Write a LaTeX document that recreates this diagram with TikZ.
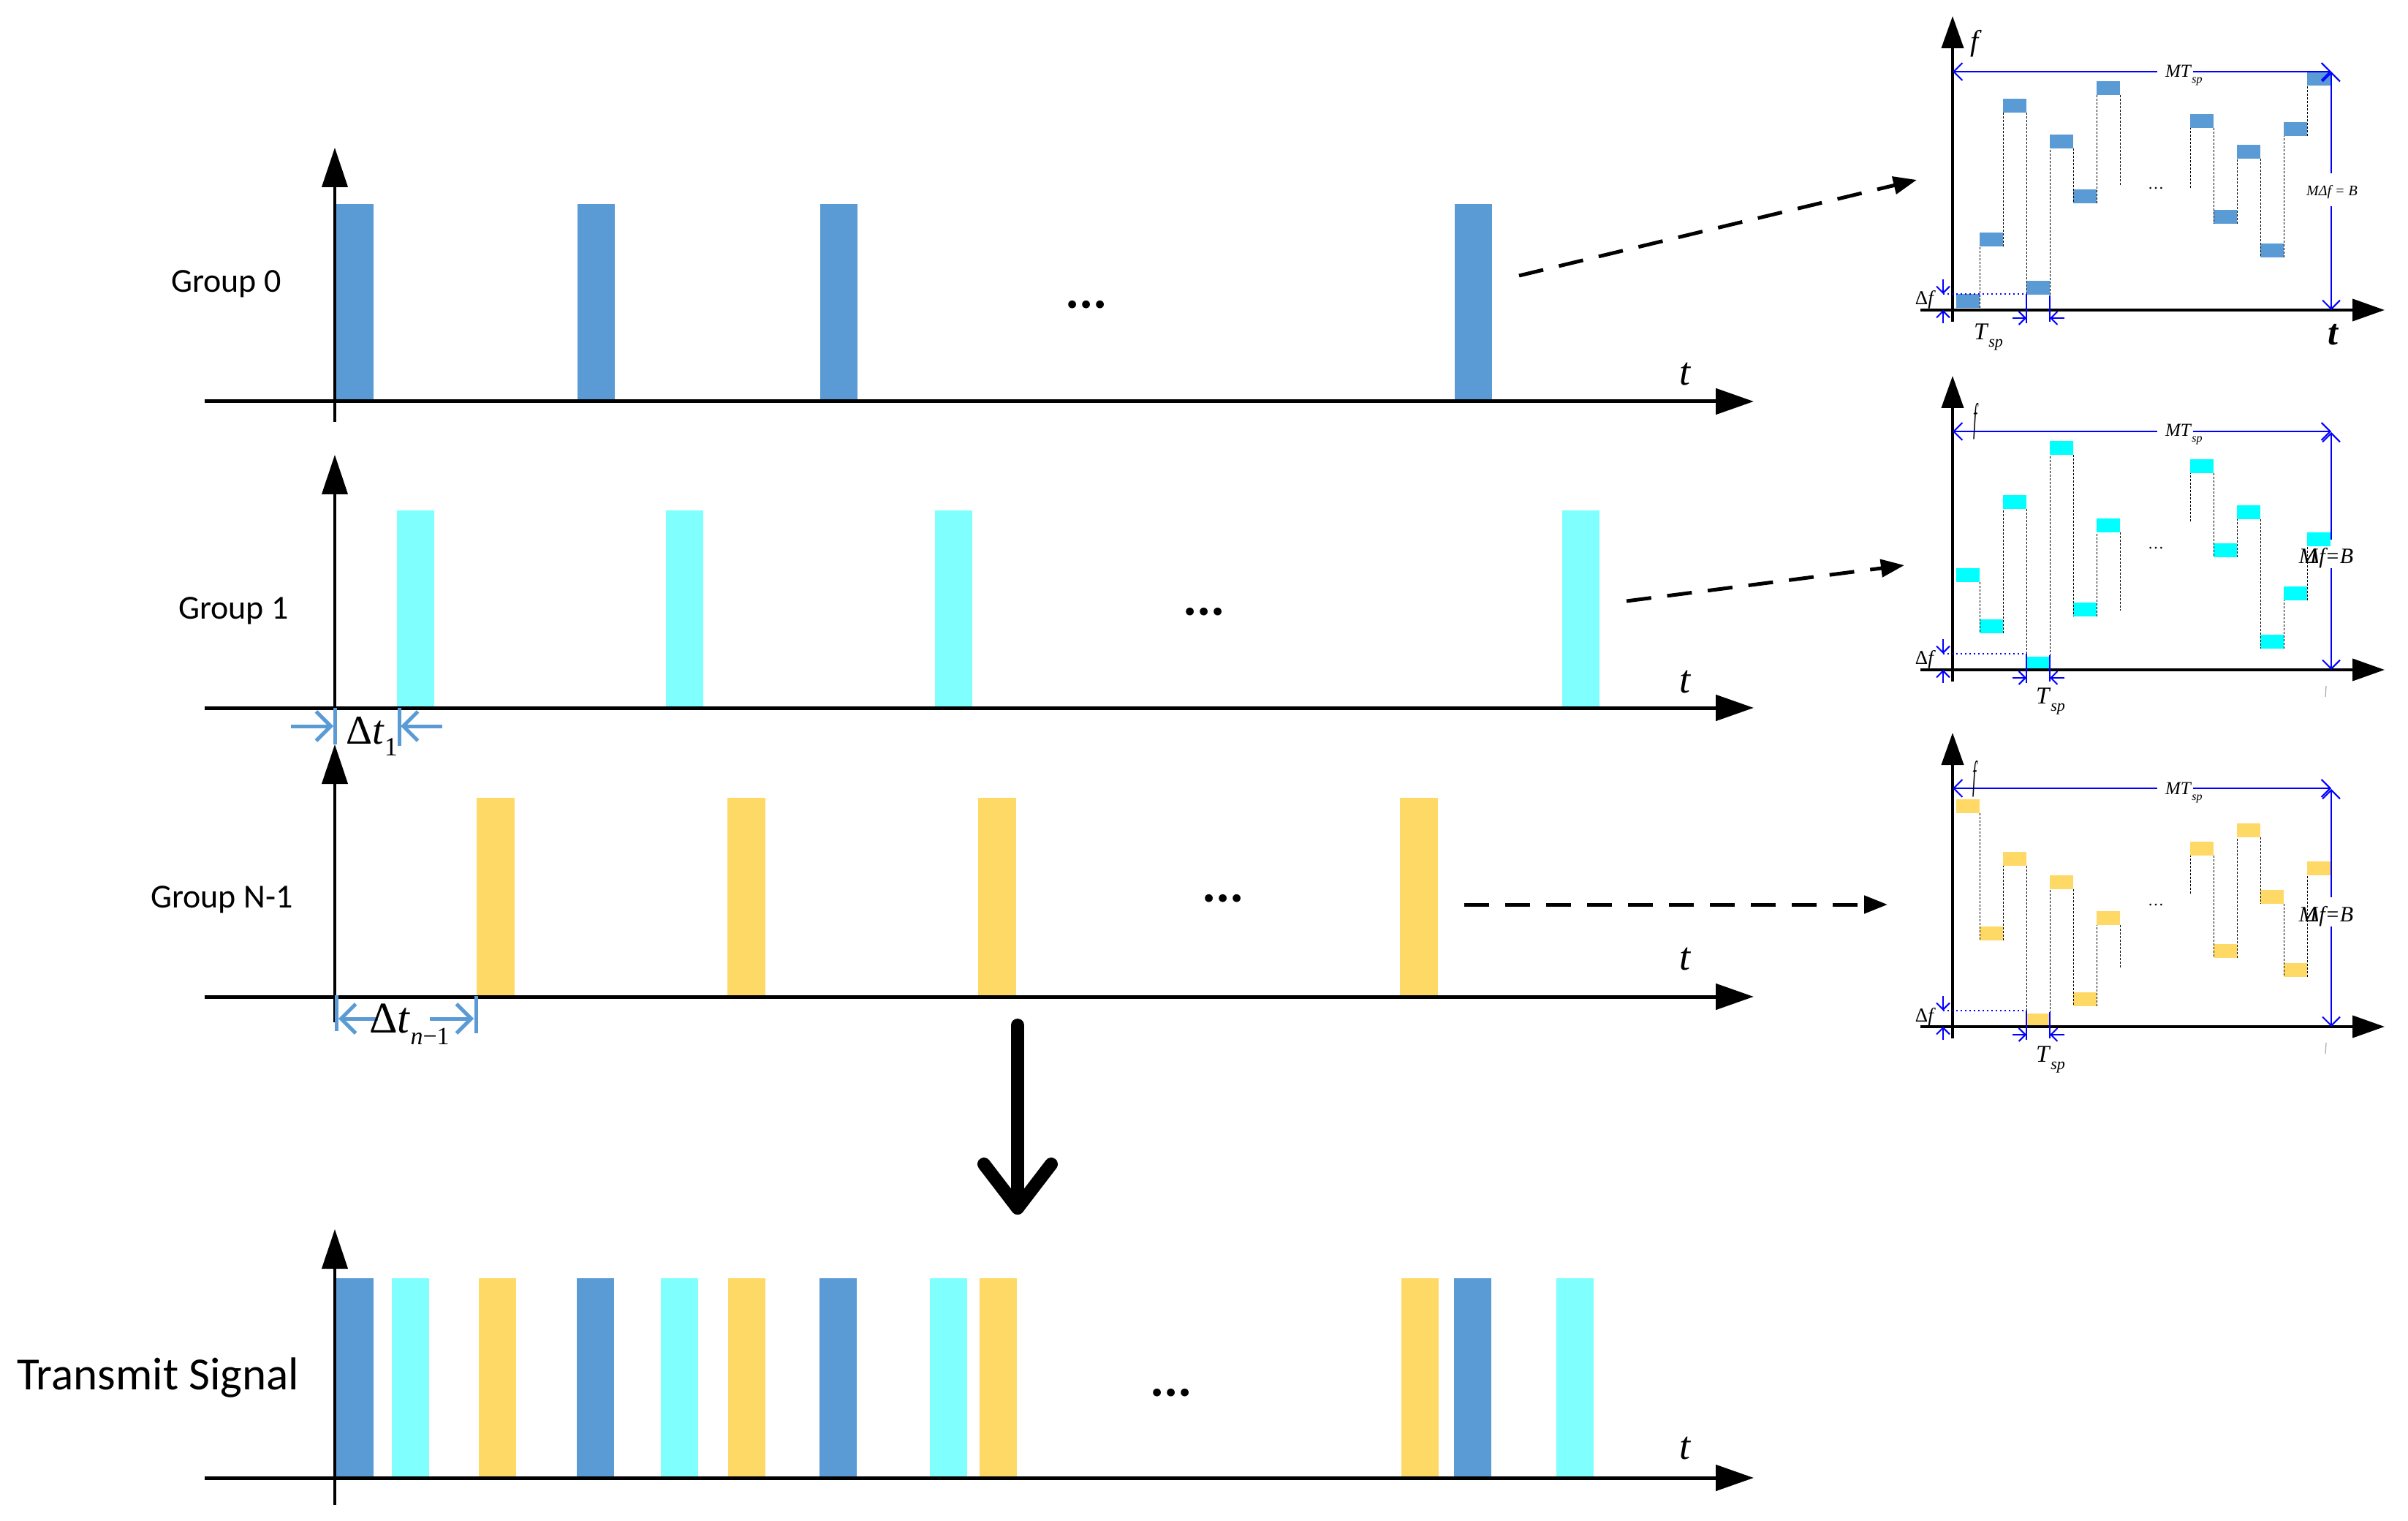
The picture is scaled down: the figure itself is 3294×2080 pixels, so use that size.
\documentclass[tikz,border=0pt]{standalone}
\usepackage{fontspec}
\setmainfont{Carlito}
\newfontfamily\tms{Liberation Serif}
\usetikzlibrary{arrows.meta}
\definecolor{gblue}{HTML}{5B9BD5}
\definecolor{gcyan}{HTML}{80FFFF}
\definecolor{gyel}{HTML}{FFD966}
\definecolor{icyan}{HTML}{00FFFF}
\definecolor{dimblue}{HTML}{0000FF}
\newcommand\fs[1]{\fontsize{#1}{#1}\selectfont}
\tikzset{
  haxis/.style={line width=2.5pt,-{Triangle[length=26pt,width=17.5pt]}},
  vaxis/.style={line width=2pt,-{Triangle[length=27pt,width=17.5pt]}},
  iaxis/.style={line width=2pt,-{Triangle[length=22pt,width=15pt]}},
  dasharrow/.style={line width=2.5pt,dash pattern=on 17pt off 11pt,-{Triangle[length=16pt,width=12pt]}},
  dtline/.style={gblue,line width=2.5pt},
  dtarrow/.style={gblue,line width=2.5pt,-{Straight Barb[length=10pt,width=20pt]}},
  dimln/.style={dimblue,line width=1pt},
  dimtip/.style={dimln,-{Straight Barb[length=6pt,width=12pt]}},
  smalltip/.style={dimln,-{Straight Barb[length=4.5pt,width=9pt]}},
  hopdot/.style={black,line width=0.5pt,dash pattern=on 1.5pt off 1pt},
  grouplab/.style={anchor=base west,font=\fs{23}},
  tlab/.style={anchor=base,font=\tms\itshape\fs{27}},
  mdots/.style={font=\bfseries\fs{36}},
}
% #1 axis y, #2 colour, #3 slot/rel list, #4 rel of slot 6, #5 trailing end rel, #6 rel of slot 10, #7 leading end rel
\newcommand\hopinset[7]{%
  \foreach \s/\r in {#3}
    \fill[#2] ({2676+32*\s},{#1-\r}) rectangle ++(32,19);
  \foreach \s/\r [remember=\s as \ls (initially -9), remember=\r as \lr (initially 0)] in {#3}{%
    \ifnum\s=\numexpr\ls+1\relax
      \draw[hopdot] ({2676+32*\s},{#1-\lr+19}) -- ({2676+32*\s},{#1-\r+19});
    \fi}
  \draw[hopdot] (2900,{#1-#4+19}) -- (2900,{#1-#5});
  \draw[hopdot] (2996,{#1-#7}) -- (2996,{#1-#6+19});
  \draw[iaxis] (2671,#1+16) -- (2671,#1-402);
  \draw[iaxis] (2627,#1) -- (3262,#1);
  % MT_sp dimension
  \draw[dimtip] (2951,#1-326) -- (2671,#1-326);
  \draw[dimtip] (3000,#1-326) -- (3189,#1-326);
  % Delta f
  \draw[smalltip] (2658,#1-42) -- (2658,#1-22);
  \draw[smalltip] (2658,#1+18) -- (2658,#1);
  \draw[dimln,dotted,line width=1pt] (2658,#1-22) -- (2772,#1-22);
  % T_sp
  \draw[dimln] (2772,#1-22) -- (2772,#1+18);
  \draw[dimln] (2804,#1-20) -- (2804,#1+16);
  \draw[smalltip] (2753,#1+11) -- (2772,#1+11);
  \draw[smalltip] (2824,#1+11) -- (2804,#1+11);
}
\begin{document}
\begin{tikzpicture}[x=0.5pt,y=-0.5pt]
\useasboundingbox (0,0) rectangle (3294,2080);

% ---------- bars ----------
\foreach \x in {460,790,1122,1990}
  \fill[gblue] (\x,279) rectangle (\x+51,549);
\foreach \x in {543,911,1279,2137}
  \fill[gcyan] (\x,698) rectangle (\x+51,968);
\foreach \x in {652,995,1338,1915}
  \fill[gyel] (\x,1091) rectangle (\x+52,1363);
\foreach \x/\c in {460/gblue,536/gcyan,655/gyel,789/gblue,904/gcyan,996/gyel,1121/gblue,1272/gcyan,1340/gyel,1917/gyel,1989/gblue,2129/gcyan}
  \fill[\c] (\x,1748) rectangle (\x+51,2021);

% ---------- axes ----------
\draw[vaxis] (458,577) -- (458,202);
\draw[haxis] (280,549) -- (2399,549);
\draw[vaxis] (458,968) -- (458,622);
\draw[haxis] (280,968) -- (2399,968);
\draw[vaxis] (458,1398) -- (458,1018);
\draw[haxis] (280,1363) -- (2399,1363);
\draw[vaxis] (458,2058) -- (458,1681);
\draw[haxis] (280,2021) -- (2399,2021);

\node[tlab] (t0) at (2305,527) {t};
\node[tlab] (t1) at (2305,947) {t};
\node[tlab] (t2) at (2305,1326) {t};
\node[tlab] (t3) at (2305,1995) {t};

% ---------- labels ----------
\node[grouplab] (lg0) at (227,400) {Group 0};
\node[grouplab] (lg1) at (237,847) {Group 1};
\node[grouplab] (lg2) at (199,1241) {Group N-1};
\node[anchor=base west,font=\fs{31.5}] (lts) at (16,1900) {Transmit Signal};

\node[mdots] (d0) at (1486,417) {...};
\node[mdots] (d1) at (1647,837) {...};
\node[mdots] (d2) at (1673,1229) {...};
\node[mdots] (d3) at (1602,1905) {...};

% ---------- delta t markers ----------
\draw[dtline] (458,968) -- (458,1018);
\draw[dtline] (546,968) -- (546,1020);
\draw[dtarrow] (398,993) -- (456,993);
\draw[dtarrow] (605,993) -- (548,993);
\node[anchor=base west,font=\tms\fs{28}] (dt1) at (466,1017)
  {Δ\textit{t}\raisebox{-8pt}{\fs{18}1}};

\draw[dtline] (460,1361) -- (460,1410);
\draw[dtline] (651,1362) -- (651,1413);
\draw[dtarrow] (517,1393) -- (463,1393);
\draw[dtarrow] (588,1393) -- (648,1393);
\node[anchor=base west,font=\tms\fs{30}] (dtn) at (498,1412)
  {Δ\textit{t}\raisebox{-8pt}{\fs{17}\textit{n}−1}};

% ---------- big arrow ----------
\coordinate (bigtop) at (1392,1402);
\coordinate (bigtip) at (1392,1652);
\coordinate (bigl) at (1346,1592);
\coordinate (bigr) at (1438,1592);
\draw[line width=9pt,line cap=round] (bigtop) -- (bigtip);
\draw[line width=9pt,line cap=round,line join=round] (bigl) -- (bigtip) -- (bigr);

% ---------- dashed connectors ----------
\coordinate (src0) at (2078,377);  \coordinate (dst0) at (2622,246);
\coordinate (src1) at (2225,822);  \coordinate (dst1) at (2605,773);
\coordinate (src2) at (2003,1237); \coordinate (dst2) at (2582,1237);
\draw[dasharrow] (src0) -- (dst0);
\draw[dasharrow] (src1) -- (dst1);
\draw[dasharrow] (src2) -- (dst2);

% ---------- inset 1 ----------
\hopinset{424}{gblue}{0/22,1/106,2/289,3/40,4/240,5/165,6/313,10/268,11/137,12/226,13/91,14/257,15/326}{313}{169}{268}{167}
\draw[dimtip] (3189,237) -- (3189,98);
\draw[dimtip] (3189,282) -- (3189,424);
\node[anchor=base west,font=\tms\itshape\fs{20}] (f1) at (2688,70) {f};
\node[anchor=base,font=\tms\bfseries\itshape\fs{25}] (tt1) at (3191,472) {t};
\node[anchor=base west,font=\tms\fs{12.5}] (mt1) at (2955,106) {\textit{MT}\raisebox{-4pt}{\fs{8}\textit{sp}}};
\node[font=\tms\itshape\fs{10}] (mb1) at (3190,263) {MΔf = B};
\node[anchor=base east,font=\tms\fs{13.5}] (df1) at (2655,417) {Δ\textit{f}};
\node[anchor=base west,font=\tms\fs{16.5}] (ts1) at (2693,465) {\textit{T}\raisebox{-5pt}{\fs{11}\textit{sp}}};
\node[font=\tms\fs{11}] (id1) at (2949,258) {…};

% ---------- inset 2 ----------
\hopinset{916}{icyan}{0/139,1/69,2/239,3/18,4/313,5/92,6/207,10/288,11/173,12/225,13/48,14/114,15/188}{207}{81}{288}{203}
\draw[dimtip] (3189,738) -- (3189,591);
\draw[dimtip] (3189,777) -- (3189,916);
\node[anchor=base west,font=\tms\itshape\fs{27}] (f2) at (2692,590) {\scalebox{0.35}[1]{f}};
\draw[black!35,line width=0.6pt] (3182,938) -- (3181,953);
\node[anchor=base west,font=\tms\fs{12.5}] (mt2) at (2955,597) {\textit{MT}\raisebox{-4pt}{\fs{8}\textit{sp}}};
\node[font=\tms\itshape\fs{15}] (mb2) at (3182,763) {M\kern-0.5emΔf=B};
\node[anchor=base east,font=\tms\fs{13.5}] (df2) at (2655,908) {Δ\textit{f}};
\node[anchor=base west,font=\tms\fs{16.5}] (ts2) at (2778,963) {\textit{T}\raisebox{-5pt}{\fs{11}\textit{sp}}};
\node[font=\tms\fs{11}] (id2) at (2949,750) {…};

% ---------- inset 3 ----------
\hopinset{1404}{gyel}{0/311,1/137,2/239,3/18,4/207,5/47,6/158,10/253,11/113,12/278,13/187,14/87,15/226}{158}{79}{253}{182}
\draw[dimtip] (3189,1227) -- (3189,1079);
\draw[dimtip] (3189,1267) -- (3189,1404);
\node[anchor=base west,font=\tms\itshape\fs{27}] (f3) at (2691,1078) {\scalebox{0.35}[1]{f}};
\draw[black!35,line width=0.6pt] (3182,1426) -- (3181,1441);
\node[anchor=base west,font=\tms\fs{12.5}] (mt3) at (2955,1086) {\textit{MT}\raisebox{-4pt}{\fs{8}\textit{sp}}};
\node[font=\tms\itshape\fs{15}] (mb3) at (3182,1253) {M\kern-0.5emΔf=B};
\node[anchor=base east,font=\tms\fs{13.5}] (df3) at (2655,1397) {Δ\textit{f}};
\node[anchor=base west,font=\tms\fs{16.5}] (ts3) at (2778,1452) {\textit{T}\raisebox{-5pt}{\fs{11}\textit{sp}}};
\node[font=\tms\fs{11}] (id3) at (2949,1238) {…};
\end{tikzpicture}
\end{document}
